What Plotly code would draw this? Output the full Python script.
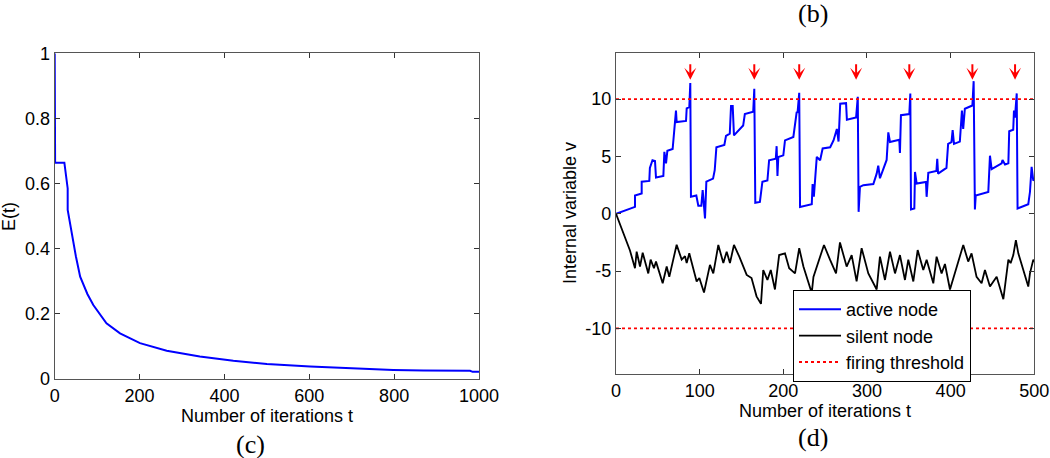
import plotly.graph_objects as go

# (c) E(t) vs iterations
e_t = [0, 1, 22.8, 30.6, 30.6, 40, 50, 60, 77, 91, 122, 154, 201, 264, 342, 421,
       500, 602, 712, 798, 869, 979, 985, 1000]
e_val = [1, 0.664, 0.664, 0.585, 0.519, 0.447, 0.376, 0.314, 0.261, 0.227, 0.171,
         0.140, 0.110, 0.087, 0.069, 0.056, 0.046, 0.038, 0.032, 0.028, 0.026,
         0.025, 0.022, 0.022]

# (d) internal variable of the active node
active_t = [0, 22.7, 22.7, 30.7, 30.7, 39.8, 40.5, 43.6, 46.6, 47.8, 56.6, 57.8, 59.8,
            61.4, 67.7, 69.3, 71.7, 72.5, 83.7, 84.5, 87.6, 88.8, 89.6, 96, 98.4, 102,
            103.6, 106.4, 108, 116, 118, 120, 129.5, 131.5, 136, 137.5, 139.5, 141,
            147.4, 152, 154, 164, 165.3, 166.5, 172, 175, 181, 183, 191, 192, 193, 194,
            200, 202, 212, 216, 217, 219, 220, 234, 235, 236.5, 240, 244, 247, 256,
            260, 264, 266, 268, 275, 276, 287, 289, 290, 291.6, 295.6, 307.6, 311.6,
            313.5, 315.5, 323.5, 325.5, 327.5, 338.6, 339.4, 340.6, 350.6, 351.8,
            352.6, 356.6, 357.4, 359.4, 370.5, 371.3, 373.3, 383, 384, 385, 395, 397,
            401, 402.4, 404, 411, 413.5, 415, 417, 426, 427.5, 429, 430, 445, 447,
            449, 461, 462, 465, 469, 470, 474.8, 475.7, 476.9, 479, 480, 492.8, 494.8,
            496.8, 498.8, 500]
active_v = [0, 0.6, 1.6, 1.77, 2.8, 2.87, 4.0, 4.67, 4.6, 3.16, 3.3, 5.4, 4.4,
            5.5, 5.65, 7.3, 9.0, 8.0, 8.1, 9.2, 9.3, 11.4, 1.48, 1.6, 0.7, 0.7,
            2.06, -0.4, 2.8, 3.07, 3.8, 5.8, 6.0, 6.8, 7.0, 9.4, 9.4, 6.84,
            7.3, 7.7, 8.7, 8.9, 10.9, 0.96, 1.04, 2.8, 2.9, 4.67, 4.8, 5.9, 3.3, 4.96,
            5.1, 6.4, 6.7, 8.9, 8.8, 10.55, 0.6, 0.84, 2.6, 1.5, 4.96, 4.67, 5.7, 5.8,
            6.4, 7.4, 6.3, 9.6, 9.65, 8.2, 8.4, 10.2, 0.17, 2.35, 2.5, 2.6, 3.5,
            4.2, 3.1, 4.7, 7.1, 6.26, 6.46, 5.3, 8.6, 8.7, 10.5,
            0.38, 0.46, 3.65, 2.64, 2.78, 1.48, 3.57, 3.74, 4.8, 3.5, 4.0, 6.1,
            6.26, 7.3, 6.1, 6.3, 9.0, 7.4, 9.16, 9.45, 11.57, 0.38, 1.6, 1.9, 5.07,
            3.9, 4.4, 4.7, 4.3, 4.4, 7.2, 7.33, 9.0, 8.4, 10.5, 0.46, 0.84, 1.9,
            4.1, 2.9, 3.0]

# (d) internal variable of the silent node
silent_t = [0, 6.8, 16.7, 22.7, 24.7, 28.7, 31.9, 38.6, 41.4, 45.4, 47.8, 55.8, 60.6,
            63.7, 68.5, 72.5, 78.5, 82.5, 84.5, 87.6, 96.4, 99.6, 105.2, 112.3, 116.3,
            122.3, 128.3, 132.3, 136.2, 141, 147.4, 156.2, 162, 168, 173.3, 176, 181,
            185, 190, 195, 202, 207, 214, 219, 224, 234, 236, 242, 248.6, 255.8, 263,
            267.7, 275.7, 281.7, 287.6, 293.6, 301.6, 311.6, 315.5, 321.5, 327.5,
            333.5, 339.4, 345.4, 349.4, 355.4, 360.6, 367.3, 371.3, 379.3, 383.2,
            389.2, 393.2, 399.2, 407.2, 415.1, 421, 425, 431, 437, 441, 447, 455, 463,
            469, 471.7, 474.9, 478, 480.9, 486.9, 492.8, 494.8, 498.8, 500]
silent_v = [0, -1.3, -3.2, -4.75, -3.3, -4.6, -3.4, -5.2, -4.0, -4.75, -4.17, -6.06, -4.6,
            -5.5, -4.0, -2.7, -4.0, -3.7, -4.3, -3.45, -5.9, -5.6, -6.87, -4.46, -5.2,
            -2.72, -4.3, -3.3, -4.3, -2.72, -3.74, -5.33, -5.6, -7.2, -7.86, -4.9, -5.77,
            -4.9, -6.6, -3.6, -3.45, -4.75, -5.2, -3.0, -4.6, -6.9, -5.5, -4.17, -2.72,
            -4.0, -5.2, -2.5, -4.6, -3.6, -5.9, -3.0, -5.2, -6.6, -3.74, -5.77, -3.3,
            -5.2, -3.6, -5.77, -4.0, -5.9, -3.16, -4.9, -4.0, -6.06, -3.74,
            -5.2, -4.38, -6.6, -4.75, -2.72, -4.17, -3.45, -5.5, -6.06, -4.9, -6.35,
            -5.5, -7.45, -4.0, -4.3, -3.6, -2.3, -3.45, -4.9, -6.35, -5.2, -4.0, -4.2]

threshold = [10, -10]
spike_t = [88.8, 165.3, 219, 287, 350.6, 426, 477]
arrow_tip = 11.7

W, H = 1050, 458
sans = "Liberation Sans, Arial, sans-serif"
serif = "Liberation Serif, Times New Roman, serif"

fig = go.Figure()

fig.add_trace(go.Scatter(x=e_t, y=e_val, mode="lines", xaxis="x", yaxis="y",
                         line=dict(color="#0000ff", width=2), showlegend=False))

fig.add_trace(go.Scatter(x=active_t, y=active_v, mode="lines", xaxis="x2", yaxis="y2",
                         name="active node", line=dict(color="#0000ff", width=2)))
fig.add_trace(go.Scatter(x=silent_t, y=silent_v, mode="lines", xaxis="x2", yaxis="y2",
                         name="silent node", line=dict(color="black", width=1.8)))

th_x, th_y = [], []
for v in threshold:
    th_x += [0, 500, None]
    th_y += [v, v, None]
fig.add_trace(go.Scatter(x=th_x, y=th_y, mode="lines", xaxis="x2", yaxis="y2",
                         name="firing threshold",
                         line=dict(color="#ff0000", width=1.8, dash="dot")))

axis_style = dict(showline=True, linecolor="#555555", linewidth=1.3, mirror="ticks",
                  ticks="inside", ticklen=5, tickcolor="#333333", showgrid=False,
                  zeroline=False, automargin=False,
                  tickfont=dict(family=sans, size=18, color="black"))

# pixel-based domains
def px_x(a, b):
    return [a / W, b / W]

def px_y(top, bottom):
    return [1 - bottom / H, 1 - top / H]

fig.update_layout(
    width=W, height=H,
    margin=dict(l=0, r=0, t=0, b=0, autoexpand=False),
    paper_bgcolor="white", plot_bgcolor="white",
    xaxis=dict(domain=px_x(54.7, 479), range=[0, 1000], tickvals=[0, 200, 400, 600, 800, 1000],
               anchor="y", ticklabelstandoff=0, **axis_style),
    yaxis=dict(domain=px_y(53.3, 379), range=[0, 1], tickvals=[0, 0.2, 0.4, 0.6, 0.8, 1],
               anchor="x", **axis_style),
    xaxis2=dict(domain=px_x(616, 1034.3), range=[0, 500], tickvals=[0, 100, 200, 300, 400, 500],
                anchor="y2", ticklabelstandoff=0, **axis_style),
    yaxis2=dict(domain=px_y(53.3, 374.3), range=[-14, 14], tickvals=[-10, -5, 0, 5, 10],
                ticktext=["-10", "-5", "0", "5", "10"], anchor="x2", **axis_style),
    legend=dict(x=793 / W, y=1 - 290 / H, xanchor="left", yanchor="top",
                bgcolor="white", bordercolor="black", borderwidth=1, itemwidth=42,
                font=dict(family=sans, size=18, color="black"), tracegroupgap=0),
)

notes = [
    dict(text="Number of iterations t", x=266.9 / W, y=1 - 416 / H, size=18, family=sans, angle=0),
    dict(text="Number of iterations t", x=825 / W, y=1 - 411 / H, size=18, family=sans, angle=0),
    dict(text="E(t)", x=9 / W, y=1 - 217 / H, size=18, family=sans, angle=-90),
    dict(text="Internal variable v", x=570 / W, y=1 - 213 / H, size=18, family=sans, angle=-90),
    dict(text="(c)", x=250 / W, y=1 - 444 / H, size=26, family=serif, angle=0),
    dict(text="(d)", x=813 / W, y=1 - 437 / H, size=26, family=serif, angle=0),
    dict(text="(b)", x=813 / W, y=1 - 13 / H, size=26, family=serif, angle=0),
]
for n in notes:
    fig.add_annotation(text=n["text"], x=n["x"], y=n["y"], xref="paper", yref="paper",
                       showarrow=False, textangle=n["angle"], xanchor="center", yanchor="middle",
                       font=dict(family=n["family"], size=n["size"], color="black"))

for t in spike_t:
    fig.add_annotation(x=t, y=arrow_tip, xref="x2", yref="y2", text="", showarrow=True,
                       ax=0, ay=-17, arrowhead=3, arrowsize=1.0, arrowwidth=2,
                       arrowcolor="#ff0000")

# drop the default 8px page margin so the figure sits at the window's corner
fig.write_html("out.html", config={"displayModeBar": False},
               post_script="document.body.style.margin='0';")
